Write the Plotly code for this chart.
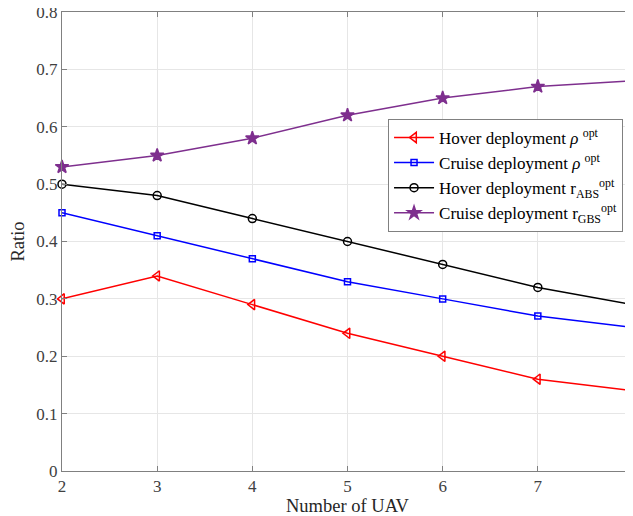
import plotly.graph_objects as go

uav = [2, 3, 4, 5, 6, 7, 8]
hover_rho = [0.30, 0.34, 0.29, 0.24, 0.20, 0.16, 0.14]
cruise_rho = [0.45, 0.41, 0.37, 0.33, 0.30, 0.27, 0.25]
hover_r_abs = [0.50, 0.48, 0.44, 0.40, 0.36, 0.32, 0.29]
cruise_r_gbs = [0.53, 0.55, 0.58, 0.62, 0.65, 0.67, 0.68]

names = [
    "Hover deployment <i>ρ</i> <sup>opt</sup>",
    "Cruise deployment <i>ρ</i> <sup>opt</sup>",
    "Hover deployment r<sub>ABS</sub><sup>opt</sup>",
    "Cruise deployment r<sub>GBS</sub><sup>opt</sup>",
]
series = [hover_rho, cruise_rho, hover_r_abs, cruise_r_gbs]
colors = ["#ff0000", "#0000ff", "#000000", "#7e2f8e"]
symbols = ["triangle-left-open", "square-open", "circle-open", "star"]
sizes = [9, 6, 8, 10]

fig = go.Figure()
for n, s, c, sym, sz in zip(names, series, colors, symbols, sizes):
    fig.add_trace(go.Scatter(
        x=uav, y=s, name=n, mode="lines+markers",
        line=dict(color=c, width=1.5),
        marker=dict(symbol=sym, size=sz, color=c, line=dict(color=c, width=1.5)),
        cliponaxis=False,
    ))

axis_common = dict(
    showgrid=True, gridcolor="#e6e6e6", gridwidth=1,
    showline=True, linecolor="#808080", linewidth=1, mirror="ticks",
    ticks="inside", ticklen=5, tickcolor="#808080",
    tickfont=dict(family="Liberation Serif", size=17, color="#404040"),
    zeroline=False, automargin=False, ticklabeloverflow="allow",
)

fig.update_layout(
    width=625, height=508,
    margin=dict(l=54, r=0, t=4, b=45),
    paper_bgcolor="white", plot_bgcolor="white",
    font=dict(family="Liberation Serif", color="#262626"),
    xaxis=dict(range=[2, 8], tickvals=uav, ticktext=[str(v) for v in uav],
               title=dict(text="Number of UAV", font=dict(size=18.5, family="Liberation Serif"), standoff=4),
               **axis_common),
    yaxis=dict(range=[0, 0.8],
               tickvals=[0, 0.1, 0.2, 0.3, 0.4, 0.5, 0.6, 0.7, 0.8],
               ticktext=["0", "0.1", "0.2", "0.3", "0.4", "0.5", "0.6", "0.7", "0.8"],
               title=dict(text="Ratio", font=dict(size=18.5, family="Liberation Serif"), standoff=6),
               **axis_common),
    legend=dict(x=0.571, y=0.767, xanchor="left", yanchor="top",
                bgcolor="white", bordercolor="#808080", borderwidth=1,
                font=dict(family="Liberation Serif", size=17, color="#000000"),
                tracegroupgap=0, itemwidth=40),
    showlegend=True,
)

fig.write_html("out.html")
